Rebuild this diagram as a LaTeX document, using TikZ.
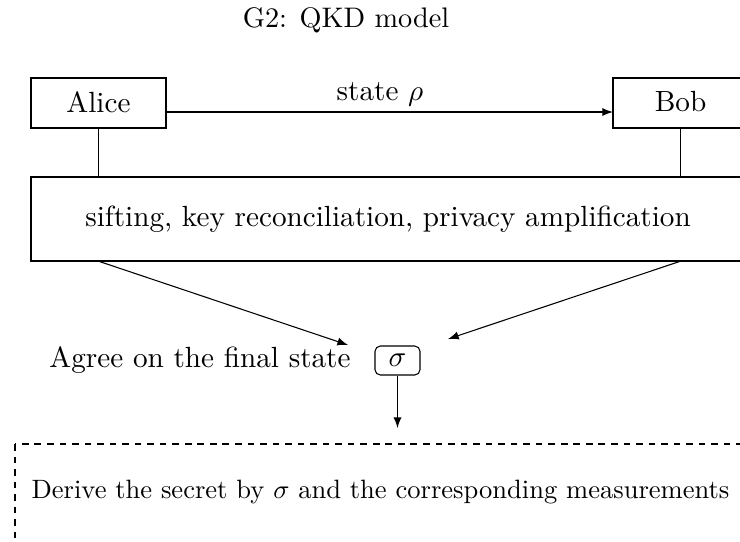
\documentclass[tikz,border=0pt]{standalone}
\usetikzlibrary{arrows}
\begin{document}
\begin{tikzpicture}[x=0.375pt,y=-0.375pt,
  line width=0.4pt,
  font=\fontsize{10.95}{13.6}\selectfont,
  party/.style={draw,inner sep=0pt,minimum width=50.625pt,minimum height=18.75pt},
  stagebox/.style={draw,inner sep=0pt,minimum width=267.75pt,minimum height=31.5pt},
  sigmabox/.style={draw,rounded corners=2pt,inner sep=0pt,minimum width=16.875pt,minimum height=10.875pt},
  flow/.style={-latex}]
  \useasboundingbox (0,0) rectangle (740,541);

  % title
  \node[font=\fontsize{10.6}{13}\selectfont] (title) at (346,20) {G2: QKD model};

  % the two parties and the quantum channel
  \node[party] (alice) at (98.5,103) {};
  \node (alicetxt) at (98.5,102) {Alice};
  \node[party] (bob) at (680.5,103) {};
  \node (bobtxt) at (680.5,102) {Bob};
  \coordinate (qa) at (166,112);
  \coordinate (qb) at (613,112);
  \draw[flow] (qa) -- (qb);
  \node (rho) at (380,94) {state $\rho$};

  % classical post-processing
  \node[stagebox] (post) at (388,219) {sifting, key reconciliation, privacy amplification};
  \draw (alice.south) -- (alice.south |- post.north);
  \draw (bob.south) -- (bob.south |- post.north);

  % agreed state
  \node[sigmabox] (sigma) at (397.5,360.5) {$\sigma$};
  \node[anchor=west] (agree) at (40,360) {Agree on the final state};
  \coordinate (pl) at (98,261);
  \coordinate (pr) at (681,261);
  \coordinate (tl) at (348,345);
  \coordinate (tr) at (448,339);
  \draw[flow] (pl) -- (tl);
  \draw[flow] (pr) -- (tr);

  % derivation of the secret
  \coordinate (dtip) at (397.5,428);
  \draw[flow] (sigma.south) -- (dtip);
  \draw[dash pattern=on 2.5pt off 2.2pt] (15,444) rectangle (745,548);
  \node[font=\fontsize{9.95}{12.2}\selectfont] (derive) at (380.5,492) {Derive the secret by $\sigma$ and the corresponding measurements};
\end{tikzpicture}
\end{document}
